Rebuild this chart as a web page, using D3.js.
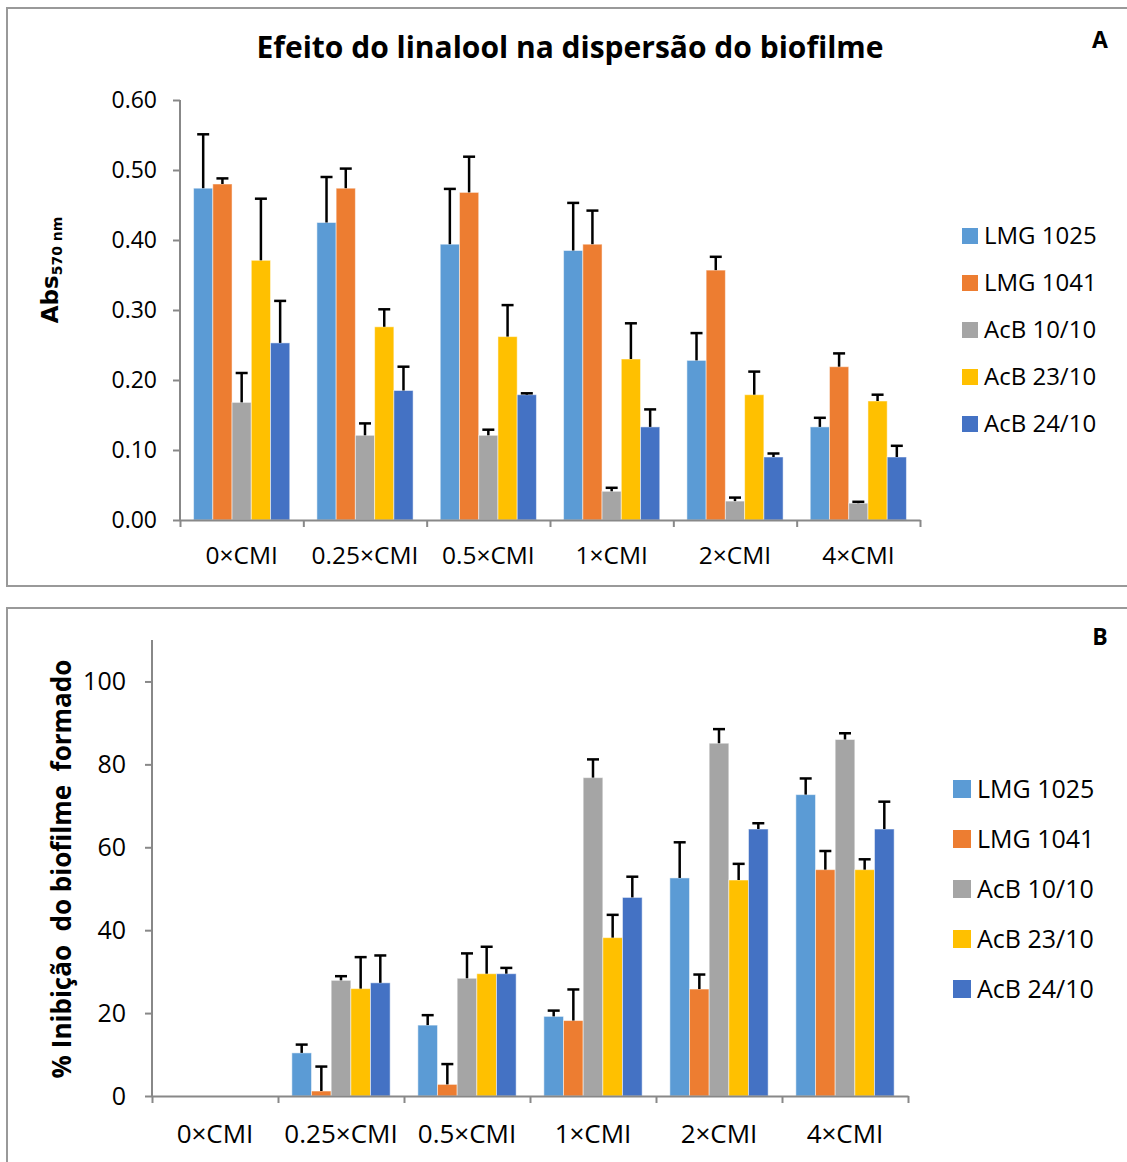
<!DOCTYPE html>
<html>
<head>
<meta charset="utf-8">
<script src="https://cdn.jsdelivr.net/npm/d3@7"></script>
<style>
  body { margin: 0; background: #fff; }
  svg text { font-family: "Open Sans", sans-serif; fill: #000; }
  .axis path, .axis line { stroke: #888; stroke-width: 2; }
</style>
</head>
<body>
<div id="graphic"></div>
<script>
// categories and series
var categories = ["0×CMI", "0.25×CMI", "0.5×CMI", "1×CMI", "2×CMI", "4×CMI"];
var series = ["LMG 1025", "LMG 1041", "AcB 10/10", "AcB 23/10", "AcB 24/10"];
var colors = ["#5B9BD5", "#ED7D31", "#A5A5A5", "#FFC000", "#4472C4"];

// panel A: absorbance, one row per series (values by category)
var absMean = [
  [0.474, 0.425, 0.394, 0.385, 0.228, 0.133],
  [0.480, 0.474, 0.468, 0.394, 0.357, 0.219],
  [0.168, 0.121, 0.121, 0.041, 0.027, 0.024],
  [0.371, 0.276, 0.262, 0.230, 0.179, 0.170],
  [0.253, 0.185, 0.179, 0.133, 0.090, 0.090]
];
var absErr = [
  [0.077, 0.065, 0.079, 0.068, 0.039, 0.013],
  [0.008, 0.028, 0.051, 0.048, 0.019, 0.019],
  [0.042, 0.017, 0.008, 0.005, 0.005, 0.002],
  [0.088, 0.025, 0.045, 0.051, 0.033, 0.009],
  [0.060, 0.034, 0.002, 0.025, 0.005, 0.016]
];
var absTicks = [0, 0.1, 0.2, 0.3, 0.4, 0.5, 0.6];

// panel B: % inhibition
var inhMean = [
  [0, 10.4, 17.1, 19.2, 52.6, 72.7],
  [0, 1.2, 2.8, 18.2, 25.8, 54.6],
  [0, 27.9, 28.4, 76.8, 85.1, 86.0],
  [0, 25.9, 29.5, 38.2, 52.1, 54.6],
  [0, 27.3, 29.5, 47.9, 64.4, 64.4]
];
var inhErr = [
  [0, 2.0, 2.4, 1.4, 8.6, 3.9],
  [0, 5.9, 4.9, 7.5, 3.5, 4.5],
  [0, 1.0, 6.0, 4.4, 3.4, 1.5],
  [0, 7.6, 6.5, 5.5, 3.9, 2.5],
  [0, 6.6, 1.4, 5.0, 1.4, 6.6]
];
var inhTicks = [0, 20, 40, 60, 80, 100];

var W = 1127, H = 1162;
var svg = d3.select("#graphic").append("svg")
    .attr("width", W).attr("height", H);

function drawPanel(p) {
    var g = svg.append("g");

    // frame
    g.append("rect")
        .attr("x", p.box[0]).attr("y", p.box[1])
        .attr("width", p.box[2]).attr("height", p.box[3])
        .attr("fill", "none").attr("stroke", "#999").attr("stroke-width", 2);

    var x0 = d3.scaleBand().domain(categories).range([p.left, p.right]);
    var bw = x0.bandwidth();
    var x1 = d3.scaleBand().domain(series).range([bw * 0.11, bw * 0.89]);
    var y = d3.scaleLinear().domain(p.domain).range([p.bottom, p.top]);

    // bars
    series.forEach(function(s, si) {
        var rows = categories.map(function(c, ci) {
            return { c: c, v: p.mean[si][ci], e: p.err[si][ci] };
        }).filter(function(d) { return d.v > 0; });

        g.selectAll(null).data(rows).enter().append("rect")
            .attr("x", function(d) { return x0(d.c) + x1(s); })
            .attr("y", function(d) { return y(d.v); })
            .attr("width", x1.bandwidth())
            .attr("height", function(d) { return y(0) - y(d.v); })
            .attr("fill", colors[si])
            .attr("stroke", "#fff").attr("stroke-opacity", 0.5).attr("stroke-width", 1);

        var cx = function(d) { return x0(d.c) + x1(s) + x1.bandwidth() / 2; };
        g.selectAll(null).data(rows).enter().append("line")
            .attr("x1", cx).attr("x2", cx)
            .attr("y1", function(d) { return y(d.v); })
            .attr("y2", function(d) { return y(d.v + d.e); })
            .attr("stroke", "#000").attr("stroke-width", 2.5);
        g.selectAll(null).data(rows).enter().append("line")
            .attr("x1", function(d) { return cx(d) - 6; })
            .attr("x2", function(d) { return cx(d) + 6; })
            .attr("y1", function(d) { return y(d.v + d.e); })
            .attr("y2", function(d) { return y(d.v + d.e); })
            .attr("stroke", "#000").attr("stroke-width", 2.5);
    });

    // y axis
    var ya = g.append("g").attr("class", "axis")
        .attr("transform", "translate(" + p.left + ",0)")
        .call(d3.axisLeft(y).tickValues(p.ticks).tickFormat(p.fmt)
            .tickSize(7).tickSizeOuter(0).tickPadding(p.tickPad));
    ya.selectAll("text").style("font-size", p.yFont + "px").attr("fill", "#000");
    ya.select(".domain").attr("d", "M0," + p.top + "V" + p.bottom);

    // x axis: boundary ticks + category labels
    var xb = d3.scaleLinear().domain([0, categories.length]).range([p.left, p.right]);
    g.append("g").attr("class", "axis")
        .attr("transform", "translate(0," + p.bottom + ")")
        .call(d3.axisBottom(xb).tickValues(d3.range(categories.length + 1))
            .tickFormat("").tickSize(7).tickSizeOuter(0));
    g.append("g").attr("transform", "translate(0," + p.bottom + ")")
        .call(d3.axisBottom(x0).tickSize(0).tickPadding(p.labelPad))
        .call(function(a) { a.select(".domain").remove(); })
        .selectAll("text").style("font-size", p.xFont + "px").attr("fill", "#000");

    // legend
    series.forEach(function(s, si) {
        var ly = p.legY + si * p.legStep;
        g.append("rect").attr("x", p.legX).attr("y", ly - p.legSq / 2)
            .attr("width", p.legSq).attr("height", p.legSq).attr("fill", colors[si]);
        g.append("text").attr("x", p.legX + p.legSq + 6).attr("y", ly)
            .attr("dy", "0.35em").style("font-size", p.legFont + "px").text(s);
    });

    // panel letter
    g.append("text").attr("x", 1100).attr("y", p.letterY).attr("dy", "0.35em")
        .attr("text-anchor", "middle").style("font-size", "23px")
        .style("font-weight", "bold").text(p.letter);
    return g;
}

var gA = drawPanel({
    box: [7, 8, 1130, 578], left: 180, right: 920, top: 100, bottom: 520,
    domain: [0, 0.6], ticks: absTicks, fmt: d3.format(".2f"),
    mean: absMean, err: absErr, yFont: 23, xFont: 24.5, tickPad: 16, labelPad: 27,
    legX: 962, legY: 236, legStep: 47, legSq: 16, legFont: 24,
    letter: "A", letterY: 40
});

gA.append("text").attr("x", 570).attr("y", 47).attr("dy", "0.35em")
    .attr("text-anchor", "middle").style("font-size", "30px").style("font-weight", "bold")
    .text("Efeito do linalool na dispersão do biofilme");

var absTitle = gA.append("text")
    .attr("transform", "translate(58,270) rotate(-90)")
    .attr("text-anchor", "middle").style("font-weight", "bold")
    .style("font-family", "'DejaVu Sans', sans-serif");
absTitle.append("tspan").style("font-size", "23px").text("Abs");
absTitle.append("tspan").style("font-size", "14px").attr("dy", 4).text("570 nm");

var gB = drawPanel({
    box: [7, 608, 1130, 570], left: 152, right: 908, top: 640, bottom: 1096,
    domain: [0, 110], ticks: inhTicks, fmt: d3.format("d"),
    mean: inhMean, err: inhErr, yFont: 25, xFont: 26, tickPad: 19, labelPad: 29,
    legX: 953, legY: 789, legStep: 50, legSq: 18, legFont: 25,
    letter: "B", letterY: 637
});

gB.append("text")
    .attr("transform", "translate(62,869) rotate(-90)")
    .attr("dy", "0.35em")
    .attr("text-anchor", "middle").style("font-size", "26px").style("font-weight", "bold")
    .style("white-space", "pre")
    .text("% Inibição  do biofilme  formado");
</script>
</body>
</html>
